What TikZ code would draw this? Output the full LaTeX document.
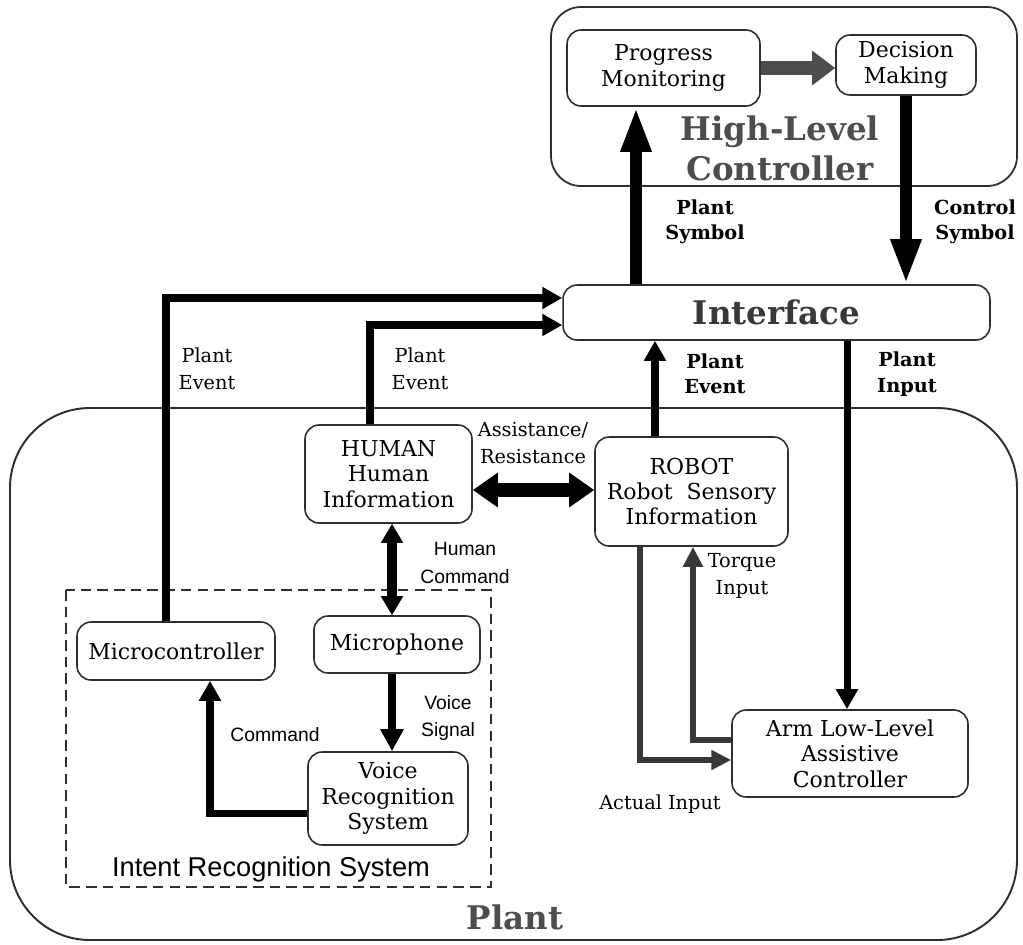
\documentclass[tikz,border=0pt]{standalone}
\usepackage{fontspec}
\setmainfont{DejaVu Serif}
\setsansfont{Liberation Sans}
\usetikzlibrary{arrows.meta}
\definecolor{titlegray}{HTML}{4D4D4D}
\definecolor{flowgray}{HTML}{383838}
\definecolor{boxline}{HTML}{2E2E2E}
\tikzset{
	block/.style={draw=boxline, line width=0.9pt, rounded corners=8pt, align=center, inner sep=0pt, font=\fontsize{12.5}{14.5}\selectfont},
	flow/.style={line width=4pt, -{Triangle[width=0.42cm,length=0.4cm]}},
	symflow/.style={line width=6.5pt, -{Triangle[width=0.56cm,length=0.9cm]}},
	bothflow/.style={line width=8pt, {Triangle[width=0.66cm,length=0.5cm]}-{Triangle[width=0.66cm,length=0.5cm]}},
	cmdflow/.style={line width=5.5pt, {Triangle[width=0.42cm,length=0.38cm]}-{Triangle[width=0.42cm,length=0.38cm]}},
	grayflow/.style={flow, draw=flowgray, line width=3.8pt, -{Triangle[width=0.38cm,length=0.4cm]}},
	lbl/.style={align=center, font=\fontsize{11}{15.5}\selectfont},
	blbl/.style={align=center, font=\bfseries\fontsize{11}{14.5}\selectfont},
	slbl/.style={align=center, font=\sffamily\fontsize{11}{15.5}\selectfont},
	title/.style={align=center, text=titlegray, font=\bfseries\fontsize{18.5}{22.7}\selectfont}
}
\begin{document}
\begin{tikzpicture}[x=0.02cm, y=-0.02cm]
	\useasboundingbox (0,0) rectangle (1023,944);
	% containers
	\draw[boxline, line width=1pt, rounded corners=0.6cm] (551,7) rectangle (1017,186);
	\draw[boxline, line width=1.1pt, rounded corners=1.6cm] (10,408) rectangle (1017,940);
	\draw[boxline, line width=1.1pt, dash pattern=on 6pt off 3.5pt] (66,590) rectangle (491,887);
	\node[title] (hlc) at (780,148) {High-Level\\Controller};
	\node[title] (plant) at (515,917) {Plant};
	\node[font=\sffamily\fontsize{15.5}{18}\selectfont] (irs) at (271,869) {Intent Recognition System};
	% blocks
	\node[block, minimum width=3.86cm, minimum height=1.52cm] (pm) at (663.5,68) {Progress\\Monitoring};
	\node[block, minimum width=2.8cm, minimum height=1.2cm] (dm) at (906,65) {Decision\\Making};
	\node[block, minimum width=8.54cm, minimum height=1.1cm, font=\bfseries\fontsize{18.5}{22}\selectfont, text=flowgray] (iface) at (776.5,312.5) {Interface};
	\node[block, minimum width=3.34cm, minimum height=1.96cm] (human) at (388.5,474) {HUMAN\\Human\\Information};
	\node[block, minimum width=3.86cm, minimum height=2.18cm] (robot) at (691.5,491.5) {ROBOT\\Robot\ \ Sensory\\Information};
	\node[block, minimum width=3.96cm, minimum height=1.16cm] (micro) at (176,651) {Microcontroller};
	\node[block, minimum width=3.32cm, minimum height=1.14cm] (mic) at (397,644.5) {Microphone};
	\node[block, minimum width=3.2cm, minimum height=1.86cm] (vrs) at (388,798.5) {Voice\\Recognition\\System};
	\node[block, minimum width=4.72cm, minimum height=1.74cm] (arm) at (850,753.5) {Arm Low-Level\\Assistive\\Controller};
	% connectors
	\draw[flow, draw=titlegray, line width=7.5pt, -{Triangle[width=0.66cm,length=0.46cm]}] (pm.east) -- (pm.east -| dm.west);
	\coordinate (ps) at (636,0);
	\draw[symflow] (ps |- iface.north) -- (ps |- pm.south);
	\draw[symflow] (dm.south) -- (dm.south |- iface.north);
	\coordinate (pe1) at (166,298);
	\draw[flow] (pe1 |- micro.north) -- (pe1) -- (pe1 -| iface.west);
	\coordinate (pe2) at (370,325);
	\draw[flow] (pe2 |- human.north) -- (pe2) -- (pe2 -| iface.west);
	\coordinate (pe3) at (655,0);
	\draw[flow] (pe3 |- robot.north) -- (pe3 |- iface.south);
	\coordinate (pin) at (847,0);
	\draw[flow] (pin |- iface.south) -- (pin |- arm.north);
	\coordinate (ar) at (0,490);
	\draw[bothflow] (human.east |- ar) -- (robot.west |- ar);
	\coordinate (hc) at (392,0);
	\draw[cmdflow] (hc |- human.south) -- (hc |- mic.north);
	\draw[flow, line width=5pt, -{Triangle[width=0.44cm,length=0.44cm]}] (hc |- mic.south) -- (hc |- vrs.north);
	\coordinate (cmd) at (210,813);
	\draw[flow] (cmd -| vrs.west) -- (cmd) -- (cmd |- micro.south);
	\coordinate (tq) at (693,740);
	\draw[grayflow] (tq -| arm.west) -- (tq) -- (tq |- robot.south);
	\coordinate (act) at (640,760);
	\draw[grayflow] (act |- robot.south) -- (act) -- (act -| arm.west);
	% labels
	\node[blbl] (l-ps) at (705,222) {Plant\\Symbol};
	\node[blbl] (l-cs) at (975,222) {Control\\Symbol};
	\node[lbl] (l-pe1) at (207,369) {Plant\\Event};
	\node[lbl] (l-pe2) at (420,369) {Plant\\Event};
	\node[blbl] (l-pe3) at (715,374) {Plant\\Event};
	\node[blbl] (l-pin) at (907,374) {Plant\\Input};
	\node[lbl] (l-ar) at (533,443) {Assistance/\\Resistance};
	\node[slbl] (l-hc) at (465,563) {Human\\Command};
	\node[slbl] (l-vs) at (448,718) {Voice\\Signal};
	\node[slbl] (l-cmd) at (275,735) {Command};
	\node[lbl] (l-tq) at (742,576) {Torque\\Input};
	\node[lbl] (l-act) at (660,804) {Actual Input};
\end{tikzpicture}
\end{document}
